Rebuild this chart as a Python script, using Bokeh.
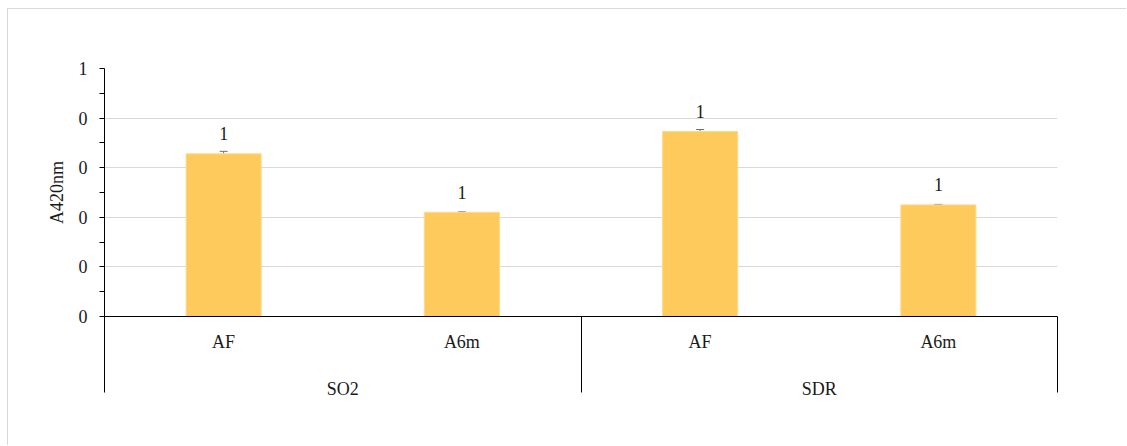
from bokeh.plotting import figure
from bokeh.models import (Range1d, FixedTicker, LinearAxis, CustomJSTickFormatter,
                          ColumnDataSource, Whisker, TeeHead)
from bokeh.core.properties import value
from bokeh.embed import file_html
from bokeh.resources import INLINE

# --- data -------------------------------------------------------------------
categories = ["AF", "A6m", "AF", "A6m"]
groups = ["SO2", "SO2", "SDR", "SDR"]
absorbance = [0.328, 0.210, 0.373, 0.225]
std_err = [0.005, 0.001, 0.004, 0.001]
bar_labels = ["1", "1", "1", "1"]
y_ticks = [0.0, 0.1, 0.2, 0.3, 0.4, 0.5]
y_minor_ticks = [0.05, 0.15, 0.25, 0.35, 0.45]

FONT = "Liberation Serif"
TEXT = "#1a1a1a"
BAR = "#FFCA5C"
SEP_LEN = 76  # length of the group separator lines below the axis

# one slot per bar; each group spans its bars
x_pos = [i + 0.5 for i in range(len(categories))]
group_names = list(dict.fromkeys(groups))
group_edges = [0.0]
group_centers = []
for g in group_names:
    n = groups.count(g)
    start = group_edges[-1]
    group_edges.append(start + n)
    group_centers.append(start + n / 2)

src = ColumnDataSource(dict(
    x=x_pos,
    top=absorbance,
    upper=[v + e for v, e in zip(absorbance, std_err)],
    lower=[v - e for v, e in zip(absorbance, std_err)],
    label=bar_labels,
))

p = figure(width=1119, height=437, output_backend="svg", toolbar_location=None,
           x_range=Range1d(0, len(categories)), y_range=Range1d(y_ticks[0], y_ticks[-1]),
           x_axis_type=None,
           min_border_left=96, min_border_right=70, min_border_top=59, min_border_bottom=130,
           margin=(8, 0, 0, 7),
           styles={"border-left": "1px solid #d9d9d9", "border-top": "1px solid #d9d9d9"})
p.outline_line_color = None
p.background_fill_color = "white"
p.border_fill_color = "white"

# y axis
ya = p.yaxis[0]
ya.ticker = FixedTicker(ticks=y_ticks, minor_ticks=y_minor_ticks)
ya.formatter = CustomJSTickFormatter(code="return Math.round(tick).toString();")
ya.axis_label = "A420nm"
ya.axis_label_text_font = FONT
ya.axis_label_text_font_size = "18px"
ya.axis_label_text_font_style = "normal"
ya.axis_label_text_color = TEXT
ya.axis_label_standoff = 9
ya.major_label_text_font = FONT
ya.major_label_text_font_size = "18px"
ya.major_label_text_color = TEXT
ya.major_label_standoff = 12
ya.axis_line_color = "black"
ya.major_tick_line_color = "black"
ya.minor_tick_line_color = "black"
ya.major_tick_in = 0
ya.major_tick_out = 5
ya.minor_tick_in = 0
ya.minor_tick_out = 5

p.ygrid.ticker = FixedTicker(ticks=y_ticks)
p.ygrid.grid_line_color = "#d9d9d9"

# category axis: labels under each bar, long minor ticks separate the groups
xa = LinearAxis(ticker=FixedTicker(ticks=x_pos, minor_ticks=group_edges),
                major_label_overrides={x: c for x, c in zip(x_pos, categories)})
xa.axis_line_color = "black"
xa.major_tick_in = 0
xa.major_tick_out = 0
xa.minor_tick_in = 0
xa.minor_tick_out = SEP_LEN
xa.minor_tick_line_color = "black"
xa.major_label_text_font = FONT
xa.major_label_text_font_size = "18px"
xa.major_label_text_color = TEXT
xa.major_label_standoff = 15 - SEP_LEN
p.add_layout(xa, "below")

# group axis
ga = LinearAxis(ticker=FixedTicker(ticks=group_centers, minor_ticks=[]),
                major_label_overrides={x: g for x, g in zip(group_centers, group_names)})
ga.axis_line_color = None
ga.major_tick_line_color = None
ga.minor_tick_line_color = None
ga.major_label_text_font = FONT
ga.major_label_text_font_size = "18px"
ga.major_label_text_color = TEXT
ga.major_label_standoff = 18
p.add_layout(ga, "below")

# bars, error bars and labels
p.vbar(x="x", top="top", bottom=0, width=0.315, source=src,
       fill_color=BAR, line_color="#FFD98A", line_width=1)

p.add_layout(Whisker(base="x", upper="upper", lower="lower", source=src,
                     line_color="#6f6f6f", line_width=1,
                     upper_head=TeeHead(size=8, line_color="#6f6f6f", line_width=1),
                     lower_head=TeeHead(size=8, line_color="#6f6f6f", line_width=1)))

p.text(x="x", y="top", text="label", source=src, text_align="center",
       text_baseline="alphabetic", y_offset=-20,
       text_font=value(FONT), text_font_size="18px", text_color=TEXT)

open("out.html", "w").write(file_html(p, INLINE))
